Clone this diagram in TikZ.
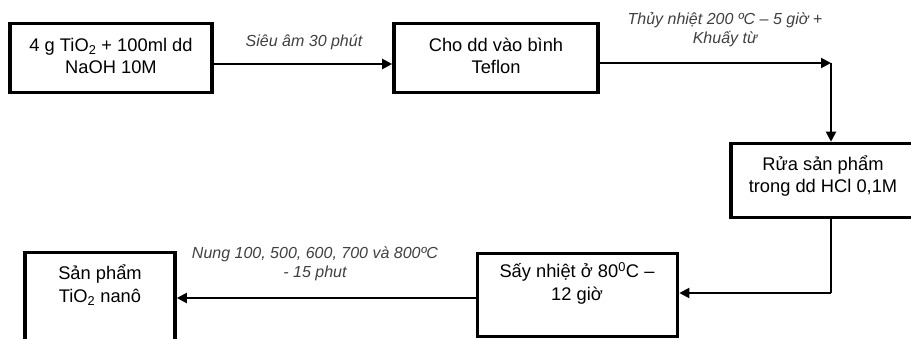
\documentclass[tikz,border=0pt]{standalone}
\usepackage{fontspec}
\setmainfont{Liberation Sans}
\usetikzlibrary{arrows.meta}
\definecolor{labgray}{rgb}{0.25,0.25,0.25}
\begin{document}
\begin{tikzpicture}[x=1pt,y=1pt,
 box/.style={draw, line width=3.6pt, inner sep=0pt, fill=white},
 boxtext/.style={align=center, font=\fontsize{18.3}{22.5}\selectfont, inner sep=0pt},
 lab/.style={align=center, font=\fontsize{16}{19.5}\selectfont\itshape, text=labgray, inner sep=0pt},
 arr/.style={line width=2pt, -{Triangle[length=10pt,width=10pt]}},
 ln/.style={line width=2pt}]
\useasboundingbox (0,0) rectangle (911,-339);
% boxes
\node[box, minimum width=202pt, minimum height=69pt] (b1) at (111,-58) {};
\node[box, minimum width=204pt, minimum height=69pt] (b2) at (496,-58) {};
\node[box, minimum width=184pt, minimum height=74pt] (b3) at (823,-180.5) {};
\node[box, minimum width=200pt, minimum height=83pt] (b4) at (577.5,-295) {};
\node[box, minimum width=150pt, minimum height=105pt] (b5) at (100,-305) {};
% box texts
\node[boxtext] (t1) at (111,-56) {4 g TiO\textsubscript{2} + 100ml dd\\NaOH 10M};
\node[boxtext] (t2) at (496,-56) {Cho dd vào bình\\Teflon};
\node[boxtext] (t3) at (823,-176) {Rửa sản phẩm\\trong dd HCl 0,1M};
\node[boxtext] (t4) at (577,-283.5) {Sấy nhiệt ở 80\textsuperscript{0}C –\\12 giờ};
\node[boxtext] (t5) at (100,-285) {Sản phẩm\\TiO\textsubscript{2} nanô};
% labels
\node[lab] (l1) at (304,-42) {Siêu âm 30 phút};
\node[lab] (l2) at (725,-29.5) {Thủy nhiệt 200 ºC – 5 giờ +\\Khuấy từ};
\node[lab] (l3) at (315,-264) {Nung 100, 500, 600, 700 và 800ºC\\- 15 phut};
% connectors
\coordinate (c1) at (831,-63);
\coordinate (c2) at (831,-293);
\draw[arr] ([yshift=-6pt]b1.east) -- ([yshift=-6pt]b1.east -| b2.west);
\draw[arr] (b2.east |- c1) -- (c1);
\draw[arr] (c1) -- (c1 |- b3.north);
\draw[ln] (c1 |- b3.south) -- (c2);
\draw[arr] (c2) -- (c2 -| b4.east);
\draw[arr] ([yshift=-3pt]b4.west) -- ([yshift=-3pt]b4.west -| b5.east);
\end{tikzpicture}
\end{document}
